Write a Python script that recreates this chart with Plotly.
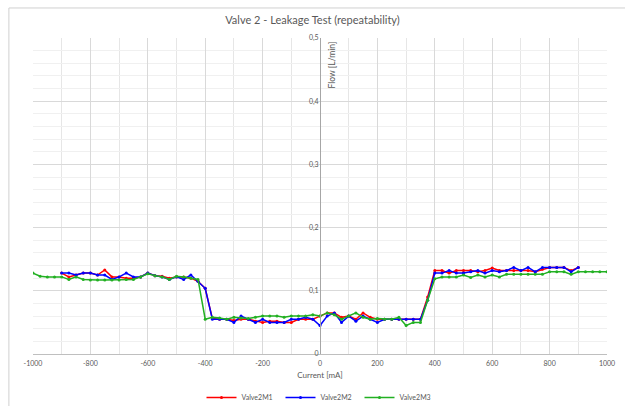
import numpy as np
import plotly.graph_objects as go

x_m12 = list(range(-900, 901, 25))
x_m3 = list(range(-1000, 1001, 25))

valve2m1 = [0.128, 0.122, 0.125, 0.128, 0.128, 0.125, 0.133, 0.122, 0.122, 0.120,
            0.120, 0.122, 0.128, 0.124, 0.123, 0.120, 0.122, 0.122, 0.120, 0.115,
            0.104, 0.056, 0.055, 0.055, 0.053, 0.055, 0.055, 0.052, 0.050, 0.052,
            0.052, 0.050, 0.050, 0.055, 0.055, 0.055, 0.060, 0.065, 0.065, 0.058,
            0.060, 0.055, 0.065, 0.058, 0.055, 0.055, 0.055, 0.055, 0.055, 0.055,
            0.055, 0.090, 0.132, 0.132, 0.128, 0.132, 0.132, 0.132, 0.130, 0.132,
            0.136, 0.132, 0.132, 0.132, 0.132, 0.132, 0.130, 0.134, 0.137, 0.137,
            0.137, 0.132, 0.137]

valve2m2 = [0.128, 0.128, 0.125, 0.128, 0.128, 0.125, 0.125, 0.118, 0.122, 0.128,
            0.122, 0.122, 0.128, 0.124, 0.122, 0.118, 0.122, 0.118, 0.125, 0.115,
            0.104, 0.055, 0.055, 0.055, 0.050, 0.060, 0.055, 0.050, 0.055, 0.050,
            0.050, 0.050, 0.055, 0.055, 0.058, 0.055, 0.045, 0.060, 0.065, 0.050,
            0.060, 0.052, 0.060, 0.055, 0.050, 0.055, 0.055, 0.055, 0.055, 0.055,
            0.055, 0.085, 0.128, 0.128, 0.132, 0.128, 0.128, 0.130, 0.132, 0.128,
            0.132, 0.130, 0.132, 0.137, 0.132, 0.137, 0.130, 0.137, 0.137, 0.137,
            0.137, 0.130, 0.137]

valve2m3 = [0.128, 0.123, 0.122, 0.122, 0.122, 0.118, 0.122, 0.118, 0.117, 0.117,
            0.117, 0.117, 0.117, 0.118, 0.118, 0.122, 0.127, 0.124, 0.122, 0.118,
            0.123, 0.122, 0.120, 0.118, 0.055, 0.058, 0.057, 0.055, 0.058, 0.057,
            0.056, 0.058, 0.060, 0.060, 0.060, 0.058, 0.060, 0.060, 0.060, 0.062,
            0.060, 0.065, 0.062, 0.055, 0.060, 0.065, 0.058, 0.055, 0.056, 0.055,
            0.055, 0.058, 0.045, 0.050, 0.050, 0.085, 0.119, 0.122, 0.122, 0.122,
            0.125, 0.121, 0.125, 0.122, 0.125, 0.122, 0.126, 0.126, 0.126, 0.126,
            0.126, 0.126, 0.130, 0.130, 0.130, 0.126, 0.130, 0.130, 0.130, 0.130,
            0.130]

y_tickvals = [0, 0.1, 0.2, 0.3, 0.4, 0.5]
y_ticktext = ["0", "0,1", "0,2", "0,3", "0,4", "0,5"]
x_tickvals = list(range(-1000, 1001, 200))
x_ticktext = [str(v) for v in x_tickvals]

FONT = "Lato"
TXT = "#595959"

fig = go.Figure()
for name, xs, ys, col in [("Valve2M1", x_m12, valve2m1, "#ff0000"),
                          ("Valve2M2", x_m12, valve2m2, "#0000ff"),
                          ("Valve2M3", x_m3, valve2m3, "#22b022")]:
    fig.add_trace(go.Scatter(x=xs, y=ys, name=name, mode="lines+markers",
                             line=dict(color=col, width=1.5),
                             marker=dict(color=col, size=3)))

fig.update_layout(
    width=625, height=406,
    margin=dict(l=33, r=18, t=38, b=52, autoexpand=False),
    paper_bgcolor="white", plot_bgcolor="white",
    font=dict(family=FONT, color=TXT, size=8),
    title=dict(text="Valve 2 - Leakage Test (repeatability)", x=0.5, xanchor="center",
               y=1 - 20 / 406, yanchor="middle", yref="container",
               font=dict(size=11, color=TXT, family=FONT)),
    showlegend=True,
    legend=dict(orientation="h", x=0.5, xanchor="center", y=-0.138, yanchor="middle",
                font=dict(size=7, color=TXT), entrywidth=34, entrywidthmode="pixels"),
    xaxis=dict(range=[-1000, 1000], tickvals=x_tickvals, ticktext=x_ticktext,
               showgrid=True, automargin=False,
               gridcolor="#d9d9d9", gridwidth=1,
               minor=dict(dtick=100, showgrid=True, gridcolor="#e6e6e6", gridwidth=1),
               zeroline=False, showline=True, linecolor="#bfbfbf", linewidth=1,
               ticks="", tickfont=dict(size=7, color=TXT), ticklabelstandoff=3,
               title=dict(text="Current [mA]", font=dict(size=8, color=TXT), standoff=5)),
    yaxis=dict(range=[0, 0.5], tickvals=y_tickvals, ticktext=y_ticktext, automargin=False,
               anchor="free", position=0.5, showgrid=True, gridcolor="#d9d9d9",
               minor=dict(dtick=0.02, showgrid=True, gridcolor="#f0f0f0", gridwidth=1),
               zeroline=False, showline=True, linecolor="#a6a6a6", linewidth=1,
               ticks="", tickfont=dict(size=7, color=TXT)),
    annotations=[dict(text="Flow [L/min]", textangle=-90, x=0, xref="x", y=0.5, yref="y",
                      xanchor="left", yanchor="top", xshift=4, yshift=-2, showarrow=False,
                      font=dict(size=8.5, color=TXT))],
    shapes=[dict(type="rect", xref="paper", yref="paper",
                 x0=-0.042, x1=1.05, y0=-0.2, y1=1.095,
                 line=dict(color="#d0d0d0", width=1), fillcolor="rgba(0,0,0,0)")],
)

fig.write_html("out.html", config={"displayModeBar": False},
               post_script="document.body.style.margin='0';document.body.style.overflow='hidden';")
